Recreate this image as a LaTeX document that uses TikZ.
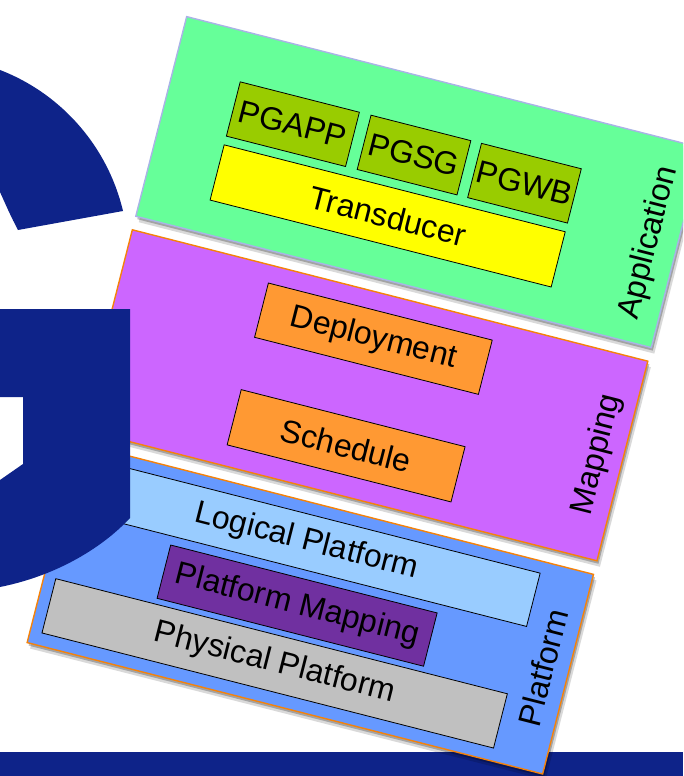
\documentclass[tikz,border=0pt]{standalone}
\usepackage{fontspec}
\setmainfont{Liberation Sans}
\usetikzlibrary{shadows}

\definecolor{gblue}{HTML}{0E2389}
\definecolor{appfill}{HTML}{66FF99}
\definecolor{appline}{HTML}{A9B3E6}
\definecolor{pggreen}{HTML}{99CC00}
\definecolor{transyellow}{HTML}{FFFF00}
\definecolor{mapfill}{HTML}{CC66FF}
\definecolor{edgeorange}{HTML}{F5820A}
\definecolor{taskorange}{HTML}{FF9933}
\definecolor{platfill}{HTML}{6699FF}
\definecolor{logicfill}{HTML}{99CCFF}
\definecolor{pmapfill}{HTML}{7030A0}
\definecolor{physfill}{HTML}{C0C0C0}

\newcommand\boxfont{\fontsize{32}{38}\selectfont}

\begin{document}
\begin{tikzpicture}[x=1pt,y=1pt,
  layer/.style={draw, line width=1.4pt, minimum width=532pt, minimum height=206pt,
    inner sep=0pt,
    drop shadow={shadow xshift=3pt, shadow yshift=-6pt, opacity=0.15, fill=black},
    drop shadow={shadow xshift=1.5pt, shadow yshift=-3pt, opacity=0.25, fill=black}},
  part/.style={draw=black, line width=0.8pt, inner sep=0pt, font=\boxfont},
  layertitle/.style={rotate=90, inner sep=0pt, font=\boxfont}]
\useasboundingbox (0,0) rectangle (683,-776);
\clip (0,0) rectangle (683,-776);

% footer band
\fill[gblue] (0,-752) rectangle (683,-776);

% the three tilted layers
\begin{scope}[rotate=-14.3, transform shape]
  \node[layer, fill=appfill, draw=appline] (app) at (451,-73) {};
  \node[layer, fill=mapfill, draw=edgeorange] (map) at (451,-293) {};
  \node[layer, fill=platfill, draw=edgeorange] (plat) at (451,-513) {};

  % application layer
  \node[part, fill=pggreen, minimum width=123pt, minimum height=56pt] (pgapp) at (314.5,-48) {PGAPP};
  \node[part, fill=pggreen, minimum width=103pt, minimum height=56pt] (pgsg) at (439.5,-48) {PGSG};
  \node[part, fill=pggreen, minimum width=103pt, minimum height=56pt] (pgwb) at (553.5,-48) {PGWB};
  \node[part, fill=transyellow, minimum width=352pt, minimum height=57pt] (trans) at (429,-113.5) {Transducer};
  \node[layertitle] (apptitle) at (689,-75) {Application};

  % mapping layer
  \node[part, fill=taskorange, minimum width=231pt, minimum height=56pt] (deploy) at (445.5,-236) {Deployment};
  \node[part, fill=taskorange, minimum width=231pt, minimum height=57pt] (sched) at (445.5,-346.5) {Schedule};
  \node[layertitle] (maptitle) at (691,-293) {Mapping};

  % platform layer
  \node[part, fill=logicfill, minimum width=468pt, minimum height=55pt] (logic) at (431,-449.5) {Logical Platform};
  \node[part, fill=pmapfill, minimum width=275pt, minimum height=55pt] (pmap) at (437.5,-513.5) {Platform Mapping};
  \node[part, fill=physfill, minimum width=466pt, minimum height=56pt] (phys) at (430,-575) {Physical Platform};
  \node[layertitle] (plattitle) at (691,-513) {Platform};
\end{scope}

% logo letter G, upper arc
\fill[gblue] (0,-70) .. controls (61.6,-93.7) and (107.8,-146.8) .. (123,-211)
  -- (18,-230) .. controls (11,-217) and (5,-203) .. (0,-192) -- cycle;
% logo letter G, stem and lower bowl
\fill[gblue] (0,-309) -- (130,-309) -- (130,-518)
  .. controls (105,-545) and (60,-575) .. (0,-587)
  -- (0,-480) -- (23,-464) -- (23,-397) -- (0,-397) -- cycle;
\end{tikzpicture}
\end{document}
